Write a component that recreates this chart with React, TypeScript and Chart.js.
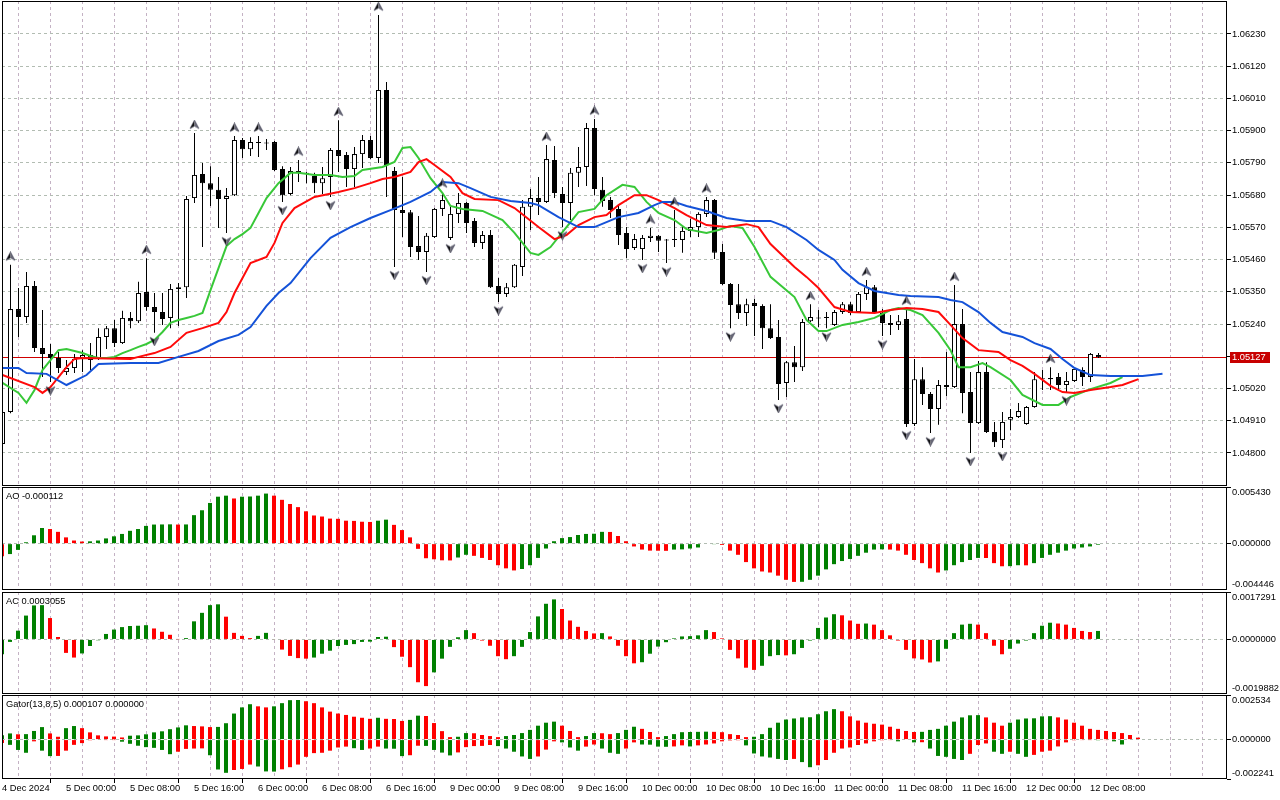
import React, { useEffect, useRef } from "react";
import { Chart, registerables } from "chart.js";

Chart.register(...registerables);

const FONT = '"Liberation Sans", Arial, sans-serif';
const FS = 9.3;
Chart.defaults.font.family = FONT;
Chart.defaults.font.size = FS;

// ---------- DATA ----------
const xTickLabels = [
  "4 Dec 2024", "5 Dec 00:00", "5 Dec 08:00", "5 Dec 16:00", "6 Dec 00:00", "6 Dec 08:00",
  "6 Dec 16:00", "9 Dec 00:00", "9 Dec 08:00", "9 Dec 16:00", "10 Dec 00:00", "10 Dec 08:00",
  "10 Dec 16:00", "11 Dec 00:00", "11 Dec 08:00", "11 Dec 16:00", "12 Dec 00:00", "12 Dec 08:00",
];

const priceTicks = [1.048, 1.0491, 1.0502, 1.0513, 1.0524, 1.0535, 1.0546, 1.0557, 1.0568, 1.0579, 1.059, 1.0601, 1.0612, 1.0623];

const opens = [
  1.04831,1.04940,1.05291,1.05264,1.05370,1.05158,1.05138,1.05124,1.05076,1.05090,
  1.05124,1.05134,1.05124,1.05196,1.05226,1.05175,1.05261,1.05250,1.05349,1.05298,
  1.05281,1.05261,1.05360,1.05366,1.05670,1.05752,1.05721,1.05698,1.05667,1.05680,
  1.05868,1.05837,1.05858,1.05858,1.05861,1.05769,1.05684,1.05762,1.05756,1.05745,
  1.05721,1.05742,1.05834,1.05817,1.05769,1.05820,1.05868,1.05807,1.06039,1.05762,
  1.05629,1.05622,1.05506,1.05486,1.05537,1.05633,1.05534,1.05616,1.05653,1.05592,
  1.05517,1.05544,1.05370,1.05343,1.05366,1.05435,1.05640,1.05670,1.05657,1.05800,
  1.05684,1.05653,1.05756,1.05776,1.05909,1.05698,1.05663,1.05633,1.05551,1.05500,
  1.05496,1.05534,1.05541,1.05527,1.05527,1.05527,1.05558,1.05571,1.05616,1.05663,
  1.05486,1.05377,1.05308,1.05278,1.05312,1.05302,1.05226,1.05196,1.05039,1.05110,
  1.05093,1.05250,1.05261,1.05261,1.05237,1.05281,1.05308,1.05281,1.05343,1.05366,
  1.05278,1.05244,1.05237,1.05257,1.04899,1.05052,1.05001,1.04950,1.05032,1.05025,
  1.05240,1.05008,1.04902,1.05076,1.04872,1.04844,1.04913,1.04923,1.04899,1.04957,
  1.05052,1.05052,1.05059,1.05032,1.05046,1.05083,1.05059,1.05134,
];
const highs = [
  1.04947,1.05442,1.05363,1.05418,1.05387,1.05288,1.05172,1.05145,1.05117,1.05138,
  1.05151,1.05175,1.05226,1.05233,1.05254,1.05285,1.05281,1.05384,1.05465,1.05346,
  1.05346,1.05377,1.05380,1.05677,1.05892,1.05790,1.05779,1.05742,1.05704,1.05882,
  1.05875,1.05878,1.05882,1.05872,1.05865,1.05779,1.05776,1.05800,1.05759,1.05756,
  1.05776,1.05841,1.05936,1.05827,1.05844,1.05885,1.05882,1.06295,1.06066,1.05776,
  1.05742,1.05629,1.05609,1.05551,1.05636,1.05691,1.05640,1.05687,1.05657,1.05602,
  1.05558,1.05561,1.05397,1.05380,1.05445,1.05663,1.05701,1.05742,1.05851,1.05848,
  1.05708,1.05773,1.05844,1.05926,1.05940,1.05742,1.05674,1.05646,1.05571,1.05547,
  1.05544,1.05568,1.05544,1.05530,1.05629,1.05571,1.05599,1.05622,1.05674,1.05667,
  1.05513,1.05380,1.05377,1.05326,1.05326,1.05308,1.05308,1.05254,1.05114,1.05165,
  1.05257,1.05308,1.05288,1.05281,1.05288,1.05315,1.05315,1.05349,1.05390,1.05373,
  1.05291,1.05271,1.05271,1.05291,1.05121,1.05093,1.05008,1.05049,1.05145,1.05373,
  1.05291,1.05076,1.05114,1.05110,1.04906,1.04940,1.04950,1.04971,1.04960,1.05076,
  1.05083,1.05093,1.05073,1.05076,1.05093,1.05093,1.05141,1.05141,
];
const lows = [
  1.04827,1.04936,1.05196,1.05244,1.05145,1.05059,1.05042,1.05073,1.05066,1.05073,
  1.05076,1.05083,1.05117,1.05155,1.05162,1.05172,1.05226,1.05244,1.05285,1.05210,
  1.05237,1.05226,1.05233,1.05329,1.05653,1.05503,1.05643,1.05568,1.05551,1.05677,
  1.05807,1.05814,1.05810,1.05834,1.05762,1.05657,1.05680,1.05725,1.05721,1.05687,
  1.05684,1.05674,1.05759,1.05708,1.05708,1.05773,1.05803,1.05790,1.05674,1.05435,
  1.05537,1.05469,1.05459,1.05418,1.05534,1.05609,1.05527,1.05585,1.05551,1.05503,
  1.05496,1.05363,1.05315,1.05332,1.05363,1.05404,1.05561,1.05612,1.05653,1.05670,
  1.05571,1.05595,1.05708,1.05711,1.05680,1.05640,1.05602,1.05510,1.05465,1.05493,
  1.05459,1.05520,1.05486,1.05448,1.05503,1.05483,1.05537,1.05537,1.05605,1.05462,
  1.05373,1.05226,1.05257,1.05233,1.05199,1.05155,1.05189,1.04981,1.04991,1.05042,
  1.05080,1.05247,1.05230,1.05226,1.05233,1.05274,1.05271,1.05278,1.05322,1.05278,
  1.05199,1.05203,1.05220,1.04889,1.04892,1.04964,1.04868,1.04896,1.04994,1.05022,
  1.04936,1.04800,1.04899,1.04868,1.04820,1.04817,1.04878,1.04919,1.04896,1.04954,
  1.05015,1.05015,1.05015,1.05008,1.05042,1.05029,1.05042,1.05124,
];
const closes = [
  1.04940,1.05291,1.05264,1.05370,1.05158,1.05138,1.05124,1.05090,1.05090,1.05121,
  1.05134,1.05117,1.05196,1.05226,1.05175,1.05261,1.05250,1.05346,1.05298,1.05281,
  1.05257,1.05360,1.05366,1.05667,1.05749,1.05721,1.05698,1.05667,1.05677,1.05868,
  1.05837,1.05861,1.05861,1.05856,1.05766,1.05680,1.05762,1.05756,1.05752,1.05721,
  1.05738,1.05834,1.05814,1.05769,1.05820,1.05868,1.05807,1.06039,1.05783,1.05629,
  1.05619,1.05503,1.05486,1.05541,1.05633,1.05663,1.05616,1.05653,1.05585,1.05517,
  1.05544,1.05366,1.05343,1.05366,1.05442,1.05640,1.05670,1.05657,1.05803,1.05687,
  1.05653,1.05756,1.05776,1.05909,1.05701,1.05660,1.05629,1.05544,1.05496,1.05530,
  1.05534,1.05541,1.05524,1.05525,1.05529,1.05558,1.05571,1.05616,1.05663,1.05483,
  1.05377,1.05305,1.05278,1.05308,1.05302,1.05226,1.05192,1.05035,1.05110,1.05093,
  1.05247,1.05264,1.05259,1.05263,1.05281,1.05308,1.05278,1.05343,1.05366,1.05281,
  1.05244,1.05237,1.05250,1.04899,1.05052,1.05001,1.04950,1.05032,1.05025,1.05240,
  1.05005,1.04902,1.05076,1.04872,1.04837,1.04906,1.04923,1.04943,1.04957,1.05052,
  1.05054,1.05056,1.05032,1.05046,1.05087,1.05059,1.05138,1.05127,
];

// Alligator lines: [bar index, price] as read at points along each line
const jawPts = [
  [0,1.0509],[2,1.0509],[3,1.05073],[5.5,1.0507],[8,1.05032],[10.5,1.05066],[12,1.05104],[16,1.05107],
  [19.5,1.05107],[22,1.05128],[24.5,1.05148],[27,1.05182],[29.5,1.05203],[31,1.0523],[33,1.05302],
  [34.5,1.05346],[36,1.0538],[38.5,1.05465],[41,1.05534],[43.5,1.05571],[46,1.05602],[48.5,1.05629],
  [51,1.05657],[53.5,1.05691],[55,1.05725],[57,1.05721],[58.5,1.05704],[61,1.05674],[63.5,1.0566],
  [66,1.05653],[67,1.05646],[69.5,1.05605],[72,1.05571],[74,1.05571],[75.5,1.05588],[77,1.05605],
  [79.5,1.05619],[81.5,1.05646],[82.5,1.05657],[84,1.05657],[85.5,1.05643],[88,1.05626],[90.5,1.05602],
  [93,1.05592],[96,1.05592],[98,1.05571],[100.5,1.05527],[102,1.05493],[104,1.05459],[105,1.05425],
  [107,1.0538],[109,1.05353],[112,1.05339],[113.5,1.05336],[117,1.05332],[118.5,1.05322],[120,1.05315],
  [122,1.05281],[123.5,1.05244],[125,1.05213],[127.5,1.05196],[129,1.05175],[131,1.05155],[132.5,1.05121],
  [134,1.0509],[136,1.05066],[138.5,1.05063],[142.5,1.05063],[145,1.0507],
];
const teethPts = [
  [0,1.05066],[4,1.05025],[5,1.05005],[6,1.05025],[7,1.05059],[8,1.05093],[9,1.05121],[10,1.05124],
  [16,1.05121],[17,1.05128],[19,1.05141],[21,1.05162],[23,1.0521],[25,1.05226],[27,1.05244],[28,1.05281],
  [29,1.05346],[31,1.05448],[33,1.05469],[34,1.05517],[35,1.05585],[36.5,1.05636],[39,1.05674],
  [42,1.05691],[44,1.05704],[46,1.05721],[47.5,1.05735],[49,1.05742],[51,1.05759],[52,1.05793],
  [53,1.05803],[54,1.05783],[56,1.05742],[57.5,1.05687],[59,1.05667],[62,1.05663],[64,1.05636],
  [67,1.05571],[69,1.0553],[70.5,1.05544],[72,1.05578],[74,1.05605],[75.5,1.05612],[77,1.05646],
  [79,1.0568],[80.5,1.0568],[82,1.05663],[84,1.05636],[85.5,1.05612],[88,1.05578],[90.5,1.05571],
  [93,1.05581],[94.5,1.05571],[96,1.05513],[99,1.05435],[100.5,1.05401],[102,1.05363],[104,1.05298],
  [106,1.05281],[109,1.05278],[111,1.05288],[113,1.05295],[115,1.05291],[117,1.05281],[118.5,1.05237],
  [120,1.05192],[122,1.05151],[124.5,1.05145],[126,1.05117],[127.5,1.05097],[129,1.0507],[131,1.05029],
  [132.5,1.05008],[134,1.05005],[136,1.05015],[138.5,1.05025],[140,1.05032],[142,1.05052],
];
const lipsPts = [
  [0,1.05039],[2,1.05005],[3,1.04971],[4,1.05015],[5,1.05083],[6,1.05117],[7,1.05151],[8,1.05155],
  [9,1.05148],[10,1.05141],[11,1.05131],[12,1.05124],[13,1.05124],[14,1.05128],[15,1.05141],[16,1.05151],
  [17,1.05162],[18,1.05172],[19,1.05186],[20,1.05213],[21,1.05244],[22,1.05254],[23,1.05261],[24,1.05268],
  [25,1.05278],[26,1.05356],[27,1.05431],[28,1.05506],[29,1.0553],[30,1.05547],[31,1.05568],[32,1.05619],
  [33,1.0567],[34,1.05704],[34.5,1.05721],[36,1.05756],[37,1.05756],[39,1.05749],[41,1.05749],
  [42.5,1.05742],[44,1.05745],[45,1.05766],[47.5,1.05776],[49,1.05793],[50,1.05841],[51,1.05844],
  [52,1.05807],[53.5,1.05738],[55,1.05687],[56,1.05643],[57.5,1.05633],[60,1.05626],[62.5,1.05595],
  [64,1.05551],[66,1.05483],[67,1.05476],[68.5,1.05503],[70.5,1.05571],[72,1.05622],[74,1.05633],
  [75.5,1.0568],[77.5,1.05715],[79,1.05708],[80.5,1.05657],[82,1.05619],[84,1.05595],[85.5,1.05564],
  [88,1.05551],[89.5,1.05561],[91,1.05575],[92.5,1.05568],[94,1.05503],[96,1.05401],[99,1.05332],
  [100.5,1.05254],[102,1.05216],[103,1.05216],[105,1.05237],[107,1.05247],[109,1.05261],[111,1.05288],
  [112,1.05295],[113.5,1.05288],[115,1.05271],[117,1.0521],[118.5,1.05151],[119.5,1.05093],[121,1.05093],
  [122.5,1.05107],[123.5,1.05093],[126,1.05049],[127.5,1.04998],[130,1.04964],[132,1.04964],
  [133.5,1.04991],[136,1.05018],[138.5,1.05039],[140,1.05059],
];

const fractalUp = [1, 18, 24, 29, 32, 37, 42, 47, 55, 68, 74, 81, 84, 88, 101, 108, 113, 119, 131];
const fractalDown = [6, 19, 28, 35, 41, 49, 53, 56, 62, 70, 80, 83, 91, 97, 103, 110, 113, 116, 121, 125, 133];

const ao = [
  -0.0012,-0.001,-0.0006,0.00013,0.0008,0.0015,0.0014,0.00113,0.0006,0.0003,
  0.0002,0.00022,0.0003,0.0005,0.0007,0.00093,0.00123,0.0014,0.0017,0.00183,
  0.00184,0.00185,0.00183,0.00184,0.00273,0.0032,0.0039,0.0045,0.0046,0.00433,
  0.0045,0.00452,0.0046,0.0048,0.0046,0.0042,0.0038,0.0035,0.0031,0.0027,
  0.0026,0.0024,0.00238,0.0022,0.00218,0.0021,0.00208,0.0022,0.0023,0.0018,
  0.0013,0.0006,-0.0005,-0.0014,-0.0015,-0.0016,-0.00161,-0.00133,-0.00107,-0.00117,
  -0.00137,-0.00157,-0.00207,-0.00237,-0.00257,-0.00243,-0.00207,-0.00137,-0.00047,0.00023,
  0.00053,0.00063,0.00083,0.00093,0.00095,0.00113,0.00112,0.00073,0.00023,-0.00027,
  -0.00057,-0.00067,-0.00068,-0.00069,-0.00057,-0.00055,-0.00047,-0.00037,-0.00005,-0.00003,
  -0.00013,-0.00067,-0.00107,-0.00177,-0.00237,-0.00267,-0.00277,-0.00307,-0.00347,-0.00367,
  -0.00366,-0.00347,-0.00307,-0.00247,-0.00197,-0.00167,-0.00147,-0.00117,-0.00087,-0.00057,
  -0.00055,-0.00057,-0.00067,-0.00107,-0.00157,-0.00187,-0.00237,-0.00277,-0.00257,-0.00207,
  -0.00177,-0.00157,-0.00137,-0.00138,-0.00187,-0.00217,-0.00216,-0.00207,-0.00208,-0.00187,
  -0.00137,-0.00107,-0.00087,-0.00067,-0.00047,-0.00037,-0.00027,-0.00011,
];
const ac = [
  -0.00054,-0.00009,0.00032,0.00087,0.00124,0.00125,0.00078,0.00009,-0.00049,-0.00066,
  -0.00051,-0.00024,-0.00003,0.0002,0.00036,0.00045,0.00049,0.0005,0.00052,0.0004,
  0.00028,0.00017,0.00001,0.00005,0.00066,0.00097,0.00125,0.00128,0.00083,0.00024,
  0.00013,0.00005,0.00013,0.00024,-0.00002,-0.00037,-0.0006,-0.00068,-0.0007,-0.00066,
  -0.00052,-0.00041,-0.00024,-0.0002,-0.00017,-0.00009,-0.00008,0.00009,0.0001,-0.00028,
  -0.00063,-0.00101,-0.00156,-0.0017,-0.0012,-0.0007,-0.00027,0.00008,0.00034,0.00023,
  -0.00004,-0.00023,-0.00061,-0.00072,-0.00061,-0.00027,0.00027,0.00084,0.0013,0.00146,
  0.00111,0.00069,0.00046,0.00031,0.00022,0.00023,0.00011,-0.00023,-0.00061,-0.00087,
  -0.00083,-0.00052,-0.00026,-0.0001,0.00004,0.00011,0.00012,0.00015,0.00034,0.00027,
  0.00004,-0.00038,-0.00069,-0.00103,-0.00111,-0.00096,-0.00061,-0.00057,-0.00058,-0.00054,
  -0.00031,-0.00004,0.00042,0.0008,0.00092,0.00088,0.00069,0.00057,0.00058,0.00054,
  0.00034,0.00015,-0.00004,-0.00038,-0.00069,-0.00073,-0.00084,-0.0008,-0.00034,0.00023,
  0.00054,0.00057,0.00054,0.00023,-0.00023,-0.00054,-0.00034,-0.00015,-0.00004,0.00023,
  0.0005,0.00061,0.00058,0.00054,0.00042,0.00031,0.00027,0.00031,
];
const gatorUp = [
  0.00024,0.00035,0.0003,0.00031,0.00049,0.00071,0.00035,0.00016,0.00065,0.00077,
  0.00065,0.00041,0.00024,0.00018,0.00017,0.00012,0.00022,0.00024,0.0003,0.00041,
  0.00047,0.00059,0.00069,0.00081,0.00077,0.00075,0.00071,0.00072,0.00093,0.00148,
  0.00183,0.00201,0.00189,0.00183,0.00189,0.00207,0.00224,0.00225,0.00218,0.00207,
  0.00183,0.00159,0.00148,0.0014,0.0013,0.00124,0.00118,0.00124,0.00118,0.00117,
  0.00106,0.00112,0.00136,0.00134,0.00094,0.00048,0.00014,0.00016,0.00037,0.00036,
  0.00026,0.0002,0.00014,0.0002,0.00026,0.00037,0.00055,0.00079,0.00096,0.00102,
  0.00079,0.00049,0.00014,0.0002,0.00037,0.00036,0.00031,0.00037,0.00055,0.00073,
  0.00061,0.00043,0.00014,0.0002,0.00031,0.00042,0.00043,0.00044,0.00045,0.00044,
  0.00042,0.00031,0.00026,0.00014,0.00016,0.00031,0.00067,0.00096,0.00114,0.0012,
  0.00126,0.00127,0.00144,0.00161,0.00173,0.00161,0.00132,0.00108,0.00096,0.0009,
  0.00085,0.00073,0.00061,0.00049,0.00043,0.00044,0.00055,0.00061,0.00079,0.00102,
  0.00126,0.00138,0.00139,0.00126,0.00096,0.00079,0.00096,0.00114,0.0012,0.00121,
  0.00132,0.00133,0.00126,0.00114,0.00096,0.00079,0.00061,0.00055,0.00049,0.00043,
  0.00037,0.00026,0.00011,
];
const gatorDown = [
  -0.0002,-0.0003,-0.00059,-0.00075,-0.0001,-0.00063,-0.00094,-0.00093,-0.00063,-0.0003,
  -0.0002,-0.00004,-0.00003,-0.00002,-0.00001,-0.00012,-0.00024,-0.00035,-0.00043,-0.00047,
  -0.00059,-0.00083,-0.00069,-0.00053,-0.00051,-0.0005,-0.00089,-0.0017,-0.00189,-0.00173,
  -0.00167,-0.00142,-0.00153,-0.00181,-0.00182,-0.00169,-0.00157,-0.00142,-0.00098,-0.00077,
  -0.00075,-0.00063,-0.00045,-0.0004,-0.00049,-0.00059,-0.00051,-0.0004,-0.00051,-0.00052,
  -0.00094,-0.00089,-0.00035,-0.00036,-0.00059,-0.00074,-0.0009,-0.00073,-0.00043,-0.00037,
  -0.00036,-0.00031,-0.00037,-0.00051,-0.00069,-0.00096,-0.0011,-0.00096,-0.00057,-0.0001,
  -0.00016,-0.00045,-0.00063,-0.0004,-0.00028,-0.00051,-0.00075,-0.00081,-0.00051,-0.00016,
  -0.00028,-0.00029,-0.0004,-0.00041,-0.00039,-0.00033,-0.00039,-0.00033,-0.00028,-0.00022,
  -0.0001,-0.00005,-0.00004,-0.00033,-0.00079,-0.00096,-0.00102,-0.0011,-0.00116,-0.0011,
  -0.00128,-0.00157,-0.00146,-0.00116,-0.00075,-0.00051,-0.00045,-0.00031,-0.00022,-0.0001,
  -0.00004,-0.00002,-0.0001,-0.00003,-0.00016,-0.00015,-0.00051,-0.00093,-0.00098,-0.0011,
  -0.00116,-0.00081,-0.00031,-0.00022,-0.00069,-0.00081,-0.00069,-0.00081,-0.00098,-0.00087,
  -0.00069,-0.00063,-0.00039,-0.00016,-0.00004,-0.00002,-0.00001,-0.00004,-0.00002,-0.0001,
  -0.00028,0,0,
];

const aoTitle = "AO -0.000112";
const acTitle = "AC 0.0003055";
const gatorTitle = "Gator(13,8,5) 0.000107 0.000000";
const aoRange = [-0.004446, 0.00543];
const acRange = [-0.0019882, 0.0017291];
const gatorRange = [-0.002241, 0.002534];
const priceRange = [1.046873, 1.063426];

// ---------- STYLE ----------
const GRID_V = "#c4b2c4";
const GRID_H = "#b2bcb2";
const GREEN = "#008000";
const RED = "#ff0000";
const JAW = "#1452d8";
const TEETH = "#ff0a0a";
const LIPS = "#38c838";
const AXIS_W = 53;

function makeArrow(up: boolean) {
  const c = document.createElement("canvas");
  c.width = 11;
  c.height = 27;
  const g = c.getContext("2d")!;
  g.translate(5.5, up ? 5 : 22);
  if (!up) g.scale(1, -1);
  // left (dark) half
  g.beginPath();
  g.moveTo(0, -4.5);
  g.lineTo(0, 1.5);
  g.lineTo(-4.5, 4);
  g.closePath();
  g.fillStyle = "#111";
  g.fill();
  // right (lighter) half
  g.beginPath();
  g.moveTo(0, -4.5);
  g.lineTo(4.5, 4);
  g.lineTo(0, 1.5);
  g.closePath();
  g.fillStyle = "#6a6a78";
  g.fill();
  g.beginPath();
  g.moveTo(0, -4.5);
  g.lineTo(4.5, 4);
  g.lineTo(0, 1.5);
  g.lineTo(-4.5, 4);
  g.closePath();
  g.strokeStyle = "rgba(60,60,80,0.8)";
  g.lineWidth = 0.7;
  g.stroke();
  return c;
}

const framePlugin = {
  id: "frame",
  afterDraw(chart: any) {
    const { ctx, chartArea: a } = chart;
    ctx.save();
    ctx.setLineDash([]);
    ctx.strokeStyle = "#000";
    ctx.lineWidth = 1;
    const l = Math.round(a.left) + 0.5;
    const t = Math.round(a.top) + 0.5;
    const r = Math.round(a.right) - 0.5;
    const b = Math.round(a.bottom) - 0.5;
    ctx.strokeRect(l, t, r - l, b - t);
    ctx.restore();
  },
};

const lastPrice = closes[closes.length - 1];

const pricePlugin = {
  id: "priceLine",
  beforeDatasetsDraw(chart: any) {
    const { ctx, chartArea: a, scales } = chart;
    const py = Math.round(scales.y.getPixelForValue(lastPrice)) + 0.5;
    ctx.save();
    ctx.setLineDash([]);
    ctx.strokeStyle = "#d00000";
    ctx.lineWidth = 1;
    ctx.beginPath();
    ctx.moveTo(a.left, py);
    ctx.lineTo(a.right, py);
    ctx.stroke();
    ctx.restore();
  },
  afterDraw(chart: any) {
    const { ctx, chartArea: a, scales } = chart;
    const py = Math.round(scales.y.getPixelForValue(lastPrice));
    ctx.save();
    ctx.fillStyle = "#c80000";
    ctx.fillRect(Math.round(a.right) + 3, py - 5, 40, 11);
    ctx.fillStyle = "#fff";
    ctx.font = `${FS}px ${FONT}`;
    ctx.textBaseline = "middle";
    ctx.textAlign = "left";
    ctx.fillText(lastPrice.toFixed(5), Math.round(a.right) + 5, py + 0.5);
    ctx.restore();
  },
};

function indicatorPlugin(title: string, decimals: number) {
  return {
    id: "indicatorText",
    afterDraw(chart: any) {
      const { ctx, chartArea: a, scales } = chart;
      const y = scales.y;
      ctx.save();
      ctx.font = `${FS}px ${FONT}`;
      ctx.fillStyle = "#000";
      ctx.textBaseline = "middle";
      ctx.textAlign = "left";
      ctx.fillText(title, a.left + 4, a.top + 9.5);
      const lx = Math.round(a.right) + 5;
      ctx.fillText(y.max.toFixed(decimals), lx, y.getPixelForValue(y.max) + 5.5);
      ctx.fillText((0).toFixed(decimals), lx, y.getPixelForValue(0));
      ctx.fillText(y.min.toFixed(decimals), lx, y.getPixelForValue(y.min) - 5.5);
      ctx.restore();
    },
  };
}

function xScale(min: number, max: number, withLabels: boolean) {
  return {
    type: "linear",
    position: "bottom",
    min,
    max,
    offset: false,
    afterBuildTicks: (s: any) => {
      const t = [];
      for (let v = 0; v <= 152; v += 4) t.push({ value: v });
      s.ticks = t;
    },
    afterFit: (s: any) => {
      s.height = withLabels ? 21 : 0;
      s.paddingLeft = 0;
      s.paddingRight = 0;
    },
    ticks: {
      display: withLabels,
      autoSkip: false,
      maxRotation: 0,
      minRotation: 0,
      align: "start",
      padding: 0,
      color: "#000",
      font: { family: FONT, size: FS },
      callback: (v: number) => (v % 8 === 0 && xTickLabels[v / 8] ? xTickLabels[v / 8] : ""),
    },
    grid: {
      color: GRID_V,
      lineWidth: 1,
      drawTicks: withLabels,
      tickLength: 4,
      tickColor: (c: any) => (c.tick && c.tick.value % 8 === 0 && c.tick.value <= 136 ? "#000" : "rgba(0,0,0,0)"),
    },
    border: { display: false, dash: [3, 3] },
  };
}

function indYScale(range: number[]) {
  return {
    type: "linear",
    position: "right",
    min: range[0],
    max: range[1],
    afterBuildTicks: (s: any) => {
      s.ticks = [{ value: range[0] }, { value: 0 }, { value: range[1] }];
    },
    afterFit: (s: any) => {
      s.width = AXIS_W;
      s.paddingTop = 0;
      s.paddingBottom = 0;
    },
    ticks: { display: false },
    grid: {
      color: (c: any) => (c.tick && c.tick.value === 0 ? GRID_H : "rgba(0,0,0,0)"),
      drawTicks: true,
      tickLength: 4,
      tickColor: "#000",
    },
    border: { display: false, dash: [3, 3] },
  };
}

const baseOpts = {
  animation: false,
  responsive: false,
  maintainAspectRatio: false,
  devicePixelRatio: 1,
  events: [],
  plugins: { legend: { display: false }, tooltip: { enabled: false } },
};

function trendColors(vals: number[], first: string, byMagnitude: boolean) {
  return vals.map((v, i) => {
    if (i === 0) return first;
    const a = byMagnitude ? Math.abs(v) : v;
    const b = byMagnitude ? Math.abs(vals[i - 1]) : vals[i - 1];
    return a > b ? GREEN : RED;
  });
}

function mainConfig(): any {
  const upImg = makeArrow(true);
  const downImg = makeArrow(false);
  return {
    type: "bar",
    data: {
      datasets: [
        {
          type: "bar",
          data: highs.map((h, i) => ({ x: i, y: [lows[i], h] })),
          backgroundColor: "#000",
          borderWidth: 0,
          barThickness: 1,
          grouped: false,
          inflateAmount: 0,
          order: 4,
        },
        {
          type: "bar",
          data: opens.map((o, i) => ({ x: i, y: [o, closes[i]] })),
          backgroundColor: opens.map((o, i) => (closes[i] >= o ? "#fff" : "#000")),
          borderColor: "#000",
          borderWidth: 1,
          borderSkipped: false,
          barThickness: 5,
          minBarLength: 1,
          grouped: false,
          inflateAmount: 0,
          order: 3,
        },
        {
          type: "line",
          data: jawPts.map(([x, y]) => ({ x, y })),
          borderColor: JAW,
          borderWidth: 2,
          pointRadius: 0,
          tension: 0,
          order: 2,
        },
        {
          type: "line",
          data: teethPts.map(([x, y]) => ({ x, y })),
          borderColor: TEETH,
          borderWidth: 2,
          pointRadius: 0,
          tension: 0,
          order: 2,
        },
        {
          type: "line",
          data: lipsPts.map(([x, y]) => ({ x, y })),
          borderColor: LIPS,
          borderWidth: 2,
          pointRadius: 0,
          tension: 0,
          order: 2,
        },
        {
          type: "scatter",
          data: fractalUp.map((i) => ({ x: i, y: highs[i] })),
          pointStyle: upImg,
          pointRadius: 5,
          showLine: false,
          clip: false,
          order: 0,
        },
        {
          type: "scatter",
          data: fractalDown.map((i) => ({ x: i, y: lows[i] })),
          pointStyle: downImg,
          pointRadius: 5,
          showLine: false,
          clip: false,
          order: 0,
        },
      ],
    },
    options: {
      ...baseOpts,
      layout: { autoPadding: false, padding: { left: 2, right: 0, top: 1, bottom: 1 } },
      scales: {
        x: xScale(-0.0625, 153.0625, false),
        y: {
          type: "linear",
          position: "right",
          min: priceRange[0],
          max: priceRange[1],
          afterBuildTicks: (s: any) => {
            s.ticks = priceTicks.map((v) => ({ value: v }));
          },
          afterFit: (s: any) => {
            s.width = AXIS_W;
            s.paddingTop = 0;
            s.paddingBottom = 0;
          },
          ticks: {
            color: "#000",
            padding: 1,
            font: { family: FONT, size: FS },
            callback: (v: number) => (Math.abs(v - lastPrice) < 0.0003 ? "" : v.toFixed(5)),
          },
          grid: {
            color: (c: any) => (c.tick && Math.abs(c.tick.value - lastPrice) < 0.0003 ? "rgba(0,0,0,0)" : GRID_H),
            drawTicks: true,
            tickLength: 4,
            tickColor: "#000",
          },
          border: { display: false, dash: [3, 3] },
        },
      },
    },
    plugins: [pricePlugin, framePlugin],
  };
}

function histConfig(series: number[][], colors: string[][], range: number[], title: string, decimals: number, withLabels: boolean, padTop: number): any {
  return {
    type: "bar",
    data: {
      datasets: series.map((vals, k) => ({
        type: "bar",
        data: vals.map((v, i) => ({ x: i, y: v })),
        backgroundColor: colors[k],
        borderWidth: 0,
        barThickness: 4,
        grouped: false,
        inflateAmount: 0,
      })),
    },
    options: {
      ...baseOpts,
      layout: { autoPadding: false, padding: { left: 2, right: 0, top: padTop, bottom: 0 } },
      scales: {
        x: xScale(0, 153.125, withLabels),
        y: indYScale(range),
      },
    },
    plugins: [framePlugin, indicatorPlugin(title, decimals)],
  };
}

export default function App() {
  const mainRef = useRef<HTMLCanvasElement>(null);
  const aoRef = useRef<HTMLCanvasElement>(null);
  const acRef = useRef<HTMLCanvasElement>(null);
  const gatorRef = useRef<HTMLCanvasElement>(null);

  useEffect(() => {
    const charts: Chart[] = [];
    charts.push(new Chart(mainRef.current!, mainConfig()));
    charts.push(
      new Chart(aoRef.current!, histConfig([ao], [trendColors(ao, RED, false)], aoRange, aoTitle, 6, false, 0))
    );
    charts.push(
      new Chart(acRef.current!, histConfig([ac], [trendColors(ac, GREEN, false)], acRange, acTitle, 7, false, 2))
    );
    charts.push(
      new Chart(
        gatorRef.current!,
        histConfig(
          [gatorUp, gatorDown],
          [trendColors(gatorUp, GREEN, true), trendColors(gatorDown, RED, true)],
          gatorRange,
          gatorTitle,
          6,
          true,
          1
        )
      )
    );
    return () => charts.forEach((c) => c.destroy());
  }, []);

  const cs = (top: number, h: number): React.CSSProperties => ({
    position: "absolute",
    left: 0,
    top,
    width: 1280,
    height: h,
    display: "block",
  });

  return (
    <div style={{ position: "fixed", left: 0, top: 0, width: 1280, height: 800, background: "#fff", overflow: "hidden" }}>
      <canvas ref={mainRef} width={1280} height={487} style={cs(0, 487)} />
      <canvas ref={aoRef} width={1280} height={103} style={cs(487, 103)} />
      <canvas ref={acRef} width={1280} height={104} style={cs(590, 104)} />
      <canvas ref={gatorRef} width={1280} height={106} style={cs(694, 106)} />
    </div>
  );
}
